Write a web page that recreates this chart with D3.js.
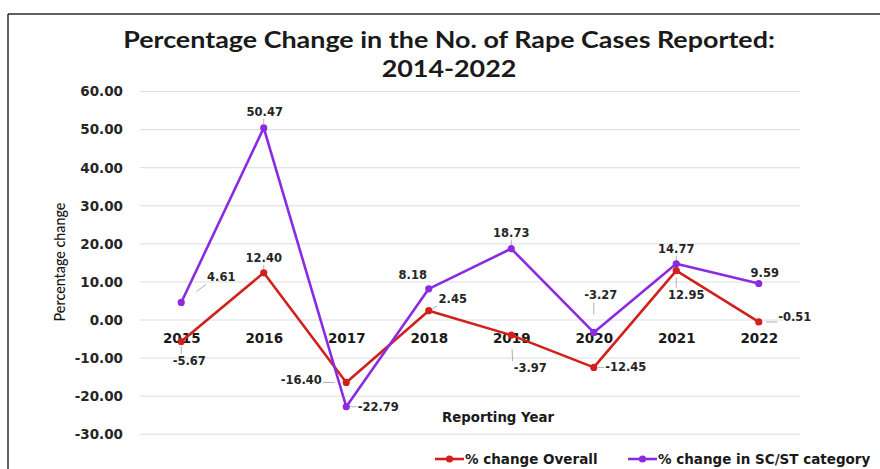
<!DOCTYPE html>
<html>
<head>
<meta charset="utf-8">
<script src="https://cdn.jsdelivr.net/npm/d3@7"></script>
<style>
  html, body { margin: 0; padding: 0; background: #fff; }
  svg { display: block; }
</style>
</head>
<body>
<svg id="chart" width="880" height="469"></svg>
<script>
// Reporting years and year-on-year percentage change
const years = ["2015", "2016", "2017", "2018", "2019", "2020", "2021", "2022"];
const overallChange = [-5.67, 12.40, -16.40, 2.45, -3.97, -12.45, 12.95, -0.51];
const scstChange = [4.61, 50.47, -22.79, 8.18, 18.73, -3.27, 14.77, 9.59];
const yTicks = [60, 50, 40, 30, 20, 10, 0, -10, -20, -30];
const seriesNames = ["% change Overall", "% change in SC/ST category"];

// Label offsets (label centre relative to its point), in pixels
const overallLabelOffsets = [[8, 19], [0, -15], [-45, -2], [24, -12], [19, 33], [32, 0], [10, 24], [36, -5]];
const scstLabelOffsets = [[40, -25], [1, -16], [32, 0], [-16, -14], [0, -16], [7, -37], [0, -15], [6, -10]];

const colors = ["#d0211c", "#8a2be2"];
const tickFont = "'DejaVu Sans', Verdana, sans-serif";
const fmt2 = d => d.toFixed(2);

const svg = d3.select("#chart");

// Frame lines
svg.append("line").attr("x1", 8).attr("y1", 14).attr("x2", 880).attr("y2", 14)
  .attr("stroke", "#2b2b2b").attr("stroke-width", 1.5);
svg.append("line").attr("x1", 8).attr("y1", 14).attr("x2", 8).attr("y2", 469)
  .attr("stroke", "#2b2b2b").attr("stroke-width", 1.5);

// Title: widened horizontally so the first line spans the chart width
const titleG = svg.append("g");
const title = titleG.append("text")
  .attr("text-anchor", "middle")
  .attr("font-family", "Lato, 'Open Sans', sans-serif")
  .attr("font-weight", "bold")
  .attr("font-size", 22.5)
  .attr("fill", "#1a1a1a");
const t1 = title.append("tspan").attr("x", 0).attr("y", 48).text("Percentage Change in the No. of Rape Cases Reported:");
title.append("tspan").attr("x", 0).attr("y", 77).text("2014-2022");
const sx = 652 / t1.node().getComputedTextLength();
titleG.attr("transform", `translate(449,0) scale(${sx},1)`);

const x = d3.scalePoint().domain(years).range([140, 800]).padding(0.5);
const y = d3.scaleLinear().domain([-30, 60]).range([434.2, 91.6]);

// Horizontal gridlines
svg.append("g").selectAll("line").data(yTicks).join("line")
  .attr("x1", 140).attr("x2", 800)
  .attr("y1", d => y(d)).attr("y2", d => y(d))
  .attr("stroke", "#dcdcdc").attr("stroke-width", 1);

// Y axis labels
const yAxis = d3.axisLeft(y).tickValues(yTicks).tickFormat(fmt2).tickSize(0).tickPadding(0);
const yg = svg.append("g").attr("transform", "translate(123,0)").call(yAxis);
yg.select(".domain").remove();
yg.selectAll("text")
  .attr("font-family", tickFont).attr("font-weight", "bold")
  .attr("font-size", 13.5).attr("fill", "#262626");

// X axis labels, sitting on the zero line
const xAxis = d3.axisBottom(x).tickSize(0).tickPadding(0);
const xg = svg.append("g").attr("transform", "translate(0,333)").call(xAxis);
xg.select(".domain").remove();
xg.selectAll("text")
  .attr("font-family", tickFont).attr("font-weight", "bold")
  .attr("font-size", 13.5).attr("fill", "#1a1a1a");

// Axis titles
const yTitle = svg.append("text")
  .attr("transform", "translate(65,262) rotate(-90)")
  .attr("text-anchor", "middle")
  .attr("font-family", "Lato, sans-serif")
  .attr("font-weight", 500)
  .attr("font-size", 15).attr("fill", "#111")
  .text("Percentage change");
const yTitleLen = yTitle.node().getComputedTextLength();
yTitle.attr("font-size", 15 * 119 / yTitleLen);

svg.append("text")
  .attr("x", 498).attr("y", 422)
  .attr("text-anchor", "middle")
  .attr("font-family", tickFont).attr("font-weight", "bold")
  .attr("font-size", 13.3).attr("fill", "#1a1a1a")
  .text("Reporting Year");

// Series
const series = [
  { values: overallChange, color: colors[0], offsets: overallLabelOffsets },
  { values: scstChange, color: colors[1], offsets: scstLabelOffsets }
];

const line = d3.line().x((d, i) => x(years[i])).y(d => y(d));

const labelLayer = svg.append("g");
series.forEach(s => {
  svg.append("path")
    .datum(s.values)
    .attr("d", line)
    .attr("fill", "none")
    .attr("stroke", s.color)
    .attr("stroke-width", 2.6)
    .attr("stroke-linejoin", "round");
  svg.append("g").selectAll("circle").data(s.values).join("circle")
    .attr("cx", (d, i) => x(years[i]))
    .attr("cy", d => y(d))
    .attr("r", 3.6)
    .attr("fill", s.color);

  s.values.forEach((v, i) => {
    const px = x(years[i]), py = y(v);
    const [dx, dy] = s.offsets[i];
    const cx = px + dx, cy = py + dy;
    const t = labelLayer.append("text")
      .attr("x", cx).attr("y", cy)
      .attr("text-anchor", "middle")
      .attr("dominant-baseline", "central")
      .attr("font-family", tickFont).attr("font-weight", "bold")
      .attr("font-size", 11.5).attr("fill", "#262626")
      .text(fmt2(v));
    // short leader line from the label edge toward its point
    const bb = t.node().getBBox();
    const ex = Math.max(bb.x - 1, Math.min(px, bb.x + bb.width + 1));
    const ey = Math.max(bb.y, Math.min(py, bb.y + bb.height));
    const dist = Math.hypot(px - ex, py - ey);
    if (dist > 8) {
      const f = Math.min(0.6, 12 / dist);
      labelLayer.append("line")
        .attr("x1", ex).attr("y1", ey)
        .attr("x2", ex + (px - ex) * f).attr("y2", ey + (py - ey) * f)
        .attr("stroke", "#b0b0b0").attr("stroke-width", 1);
    }
  });
});

// Legend
const legendItems = [
  { name: seriesNames[0], color: colors[0], x: 435 },
  { name: seriesNames[1], color: colors[1], x: 628 }
];
const lg = svg.append("g");
legendItems.forEach(it => {
  lg.append("line").attr("x1", it.x).attr("x2", it.x + 29).attr("y1", 459).attr("y2", 459)
    .attr("stroke", it.color).attr("stroke-width", 2.6);
  lg.append("circle").attr("cx", it.x + 14.5).attr("cy", 459).attr("r", 3.6).attr("fill", it.color);
  lg.append("text").attr("x", it.x + 30).attr("y", 459)
    .attr("dominant-baseline", "central")
    .attr("font-family", tickFont).attr("font-weight", "bold")
    .attr("font-size", 13.5).attr("fill", "#1a1a1a")
    .text(it.name);
});
</script>
</body>
</html>
